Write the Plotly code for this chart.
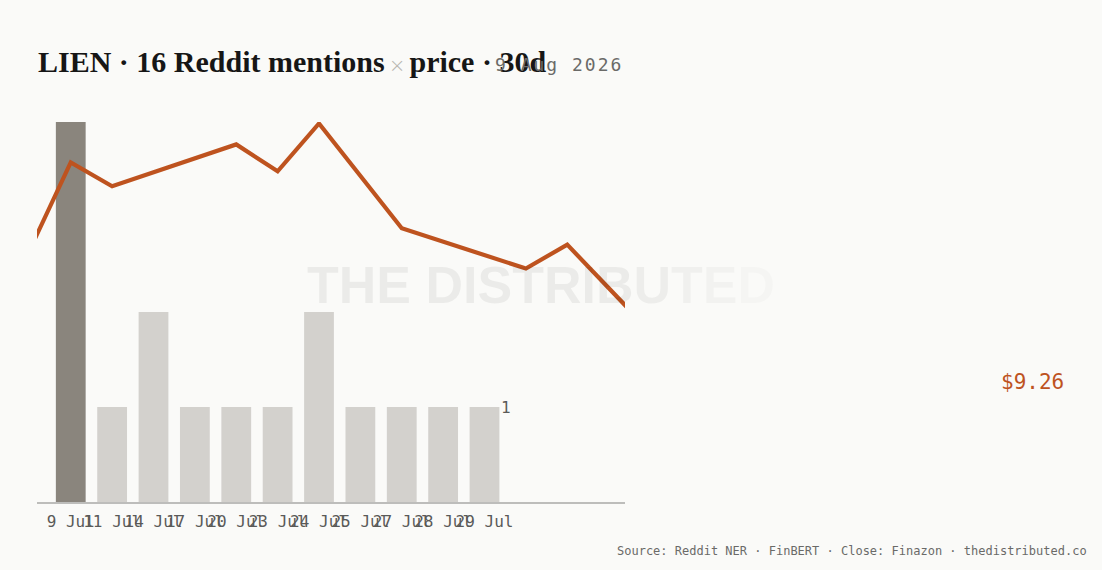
import plotly.graph_objects as go
import pandas as pd

# ---------------- data ----------------
TICKER = "LIEN"
WINDOW = "30d"
AS_OF = "9 Aug 2026"

MENTION_DAYS = ["9 Jul", "11 Jul", "14 Jul", "17 Jul", "20 Jul", "23 Jul",
                "24 Jul", "25 Jul", "27 Jul", "28 Jul", "29 Jul"]
MENTIONS = [4, 1, 2, 1, 1, 1, 2, 1, 1, 1, 1]

PRICE_DATES = ["2026-07-08", "2026-07-09", "2026-07-10", "2026-07-13",
               "2026-07-14", "2026-07-15", "2026-07-17", "2026-07-20",
               "2026-07-21", "2026-07-23"]
PRICES = [10.14, 10.73, 10.57, 10.85, 10.67, 10.99, 10.29, 10.02, 10.18, 9.60]
LAST_CLOSE = 9.26

SOURCE = "Source: Reddit NER · FinBERT · Close: Finazon · thedistributed.co"

# ---------------- style / layout ----------------
BG = "#FAFAF8"
ORANGE = "#BE531F"
BAR_HI = "#8A857D"
BAR_LO = "#D3D1CD"
MONO = "DejaVu Sans Mono"

W, H = 1102, 570
L, R, T, B = 37, 477, 122, 68
plot_w = W - L - R

# category axis: first band centre ~33.75px from left edge, 41.375px per band
band_px = 41.375
r0 = -33.75 / band_px
r1 = r0 + plot_w / band_px
date0 = pd.Timestamp("2026-07-09")
d_lo = date0 + pd.Timedelta(days=r0)
d_hi = date0 + pd.Timedelta(days=r1)

bar_colors = [BAR_HI if v == max(MENTIONS) else BAR_LO for v in MENTIONS]

fig = go.Figure()
fig.add_trace(go.Bar(x=MENTION_DAYS, y=MENTIONS, marker_color=bar_colors,
                     marker_line_width=0, xaxis="x", yaxis="y",
                     hoverinfo="skip"))
fig.add_trace(go.Scatter(x=PRICE_DATES, y=PRICES, mode="lines",
                         line=dict(color=ORANGE, width=4.2),
                         xaxis="x2", yaxis="y2", hoverinfo="skip"))

title = (f"{TICKER} · {sum(MENTIONS)} Reddit mentions"
         f"<span style='color:#B8B6B0;font-size:20px;font-weight:300;"
         f"font-family:DejaVu Sans'>\u2009×\u2009</span>"
         f"price · {WINDOW}")

fig.update_layout(
    width=W, height=H,
    margin=dict(l=L, r=R, t=T, b=B),
    paper_bgcolor=BG, plot_bgcolor=BG,
    showlegend=False,
    bargap=0.28,
    title=dict(text=title, xref="container", yref="container",
               x=38 / W, xanchor="left", y=1 - 61 / H, yanchor="middle",
               font=dict(family="Liberation Serif", size=30, color="#161616",
                         weight="bold")),
    xaxis=dict(type="category", categoryorder="array",
               categoryarray=MENTION_DAYS, range=[r0, r1],
               tickmode="array", tickvals=MENTION_DAYS, ticktext=MENTION_DAYS,
               tickangle=0, ticks="", showgrid=False, zeroline=False,
               showline=True, linecolor="#BDBDBB", linewidth=1.5,
               tickfont=dict(family=MONO, size=16, color="#5A5A58"),
               ticklabelstandoff=4),
    yaxis=dict(range=[0, max(MENTIONS)], visible=False, showgrid=False),
    xaxis2=dict(type="date", overlaying="x", range=[d_lo, d_hi],
                visible=False, showgrid=False),
    yaxis2=dict(overlaying="y", range=[8.459, 11.0], visible=False,
                showgrid=False),
)

wm = ("<span style='color:rgba(0,0,0,0.058)'>THE DISTRIB</span>"
      "<span style='color:rgba(0,0,0,0.05)'>U</span>"
      "<span style='color:rgba(0,0,0,0.04)'>T</span>"
      "<span style='color:rgba(0,0,0,0.03)'>E</span>"
      "<span style='color:rgba(0,0,0,0.02)'>D</span>")

fig.add_annotation(text=wm, xref="paper", yref="paper",
                   x=(541 - L) / plot_w, y=(H - B - 285) / (H - T - B),
                   xanchor="center", yanchor="middle", showarrow=False,
                   font=dict(family="Liberation Sans", size=52, weight="bold"))

fig.add_annotation(text=f"<span style='letter-spacing:2px'>{AS_OF}</span>",
                   xref="paper", yref="paper", x=1, y=1, yshift=58,
                   xanchor="right", yanchor="middle", showarrow=False,
                   font=dict(family=MONO, size=18, color="#6A6A68"))

fig.add_annotation(text=str(MENTIONS[-1]), xref="x", yref="y",
                   x=MENTION_DAYS[-1], y=MENTIONS[-1], xanchor="left",
                   xshift=14, yanchor="middle", showarrow=False,
                   font=dict(family=MONO, size=16, color="#5A5A58"))

fig.add_annotation(text=f"${LAST_CLOSE:.2f}", xref="paper", yref="y2",
                   x=(1066 - L) / plot_w, y=LAST_CLOSE, xanchor="right",
                   yanchor="middle", showarrow=False,
                   font=dict(family=MONO, size=21, color=ORANGE))

fig.add_annotation(text=SOURCE, xref="paper", yref="paper",
                   x=(1089 - L) / plot_w, y=0, yshift=-49,
                   xanchor="right", yanchor="middle", showarrow=False,
                   font=dict(family=MONO, size=12, color="#6A6A68"))

fig.write_html(
    "out.html",
    config={"displayModeBar": False},
    post_script=("document.body.style.margin='0';"
                 f"document.body.style.background='{BG}';"),
)
